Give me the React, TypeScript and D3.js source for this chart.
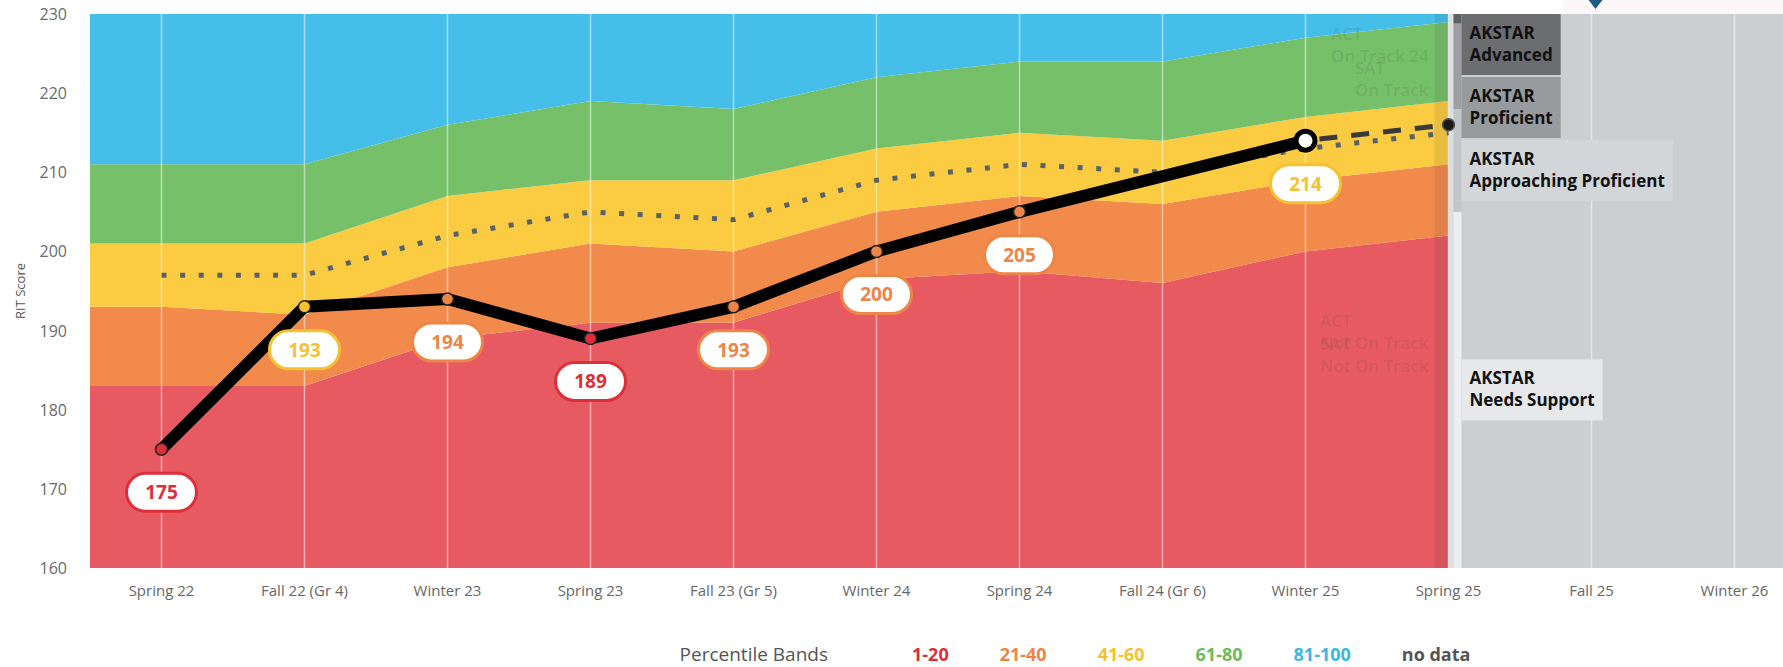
import React from "react";
import * as d3 from "d3";

const width = 1783;
const height = 667;
const plot = { top: 14, bottom: 568, left: 90, right: 1806 };
const font = "'Open Sans', sans-serif";

// categories on the x axis
const periods = [
  "Spring 22", "Fall 22 (Gr 4)", "Winter 23", "Spring 23", "Fall 23 (Gr 5)", "Winter 24",
  "Spring 24", "Fall 24 (Gr 6)", "Winter 25", "Spring 25", "Fall 25", "Winter 26"
];
const bandPeriods = periods.slice(0, 10);

// percentile band boundaries (RIT) per period
const p20 = [183, 183, 189, 191, 191, 196.5, 197.5, 196, 200, 202];
const p40 = [193, 192, 198, 201, 200, 205, 207, 206, 209, 211];
const p60 = [201, 201, 207, 209, 209, 213, 215, 214, 217, 219];
const p80 = [211, 211, 216, 219, 218, 222, 224, 224, 227, 229];
const median = [197, 197, 202, 205, 204, 209, 211, 210, 213, 215];

// student scores
const scores: (number | null)[] = [175, 193, 194, 189, 193, 200, 205, null, 214];
const projected = 216;

const bandNames = ["1-20", "21-40", "41-60", "61-80", "81-100"];
const bandColors = ["#e85a61", "#f28a4b", "#fbcb41", "#77c06a", "#45bfe9"];
const textColors = ["#dc2f39", "#ee8546", "#f5c131", "#6cb95e", "#3cb7e2"];
const yTicks = [160, 170, 180, 190, 200, 210, 220, 230];

const akstarLevels = ["Needs Support", "Approaching Proficient", "Proficient", "Advanced"];
const akstarCuts = [160, 205, 218, 228.8, 230];
const akstarBoxColors = ["#e6e8e9", "#d3d6d8", "#989b9e", "#6b6d6f"];
const akstarBarColors = ["#eceeef", "#c3c6c8", "#9d9fa2", "#5e6062"];

const trackNotes = [
  { lines: ["ACT", "On Track 24"], score: 226.7 },
  { lines: ["SAT", "On Track"], score: 222.4 },
  { lines: ["ACT", "Not On Track"], score: 190.4 },
  { lines: ["SAT", "Not On Track"], score: 187.6 }
];

let ctx: CanvasRenderingContext2D | null = null;
function measure(text: string, f: string) {
  if (!ctx) ctx = document.createElement("canvas").getContext("2d");
  ctx!.font = f;
  return ctx!.measureText(text).width;
}

export default function App() {
  const x = d3.scalePoint<string>().domain(periods).range([plot.left, plot.right]).padding(0.5);
  const y = d3.scaleLinear().domain([160, 230]).range([plot.bottom, plot.top]);
  const px = (p: string) => x(p) as number;

  const lows = [bandPeriods.map(() => 160), p20, p40, p60, p80];
  const highs = [p20, p40, p60, p80, bandPeriods.map(() => 230)];
  const pts = [{ x: plot.left, i: 0 }, ...bandPeriods.map((p, i) => ({ x: px(p), i }))];
  const endX = px("Spring 25");

  const bandOf = (v: number, i: number) => {
    let b = 0;
    [p20, p40, p60, p80].forEach(arr => { if (v >= arr[i]) b++; });
    return b;
  };

  const scorePts = scores
    .map((v, i) => ({ v, i }))
    .filter(d => d.v !== null) as { v: number; i: number }[];
  const line = d3.line<{ v: number; i: number }>()
    .x(d => px(periods[d.i]))
    .y(d => y(d.v));
  const medLine = d3.line<number>()
    .x((_, i) => px(periods[i]))
    .y(d => y(d));
  const last = scorePts[scorePts.length - 1];

  // AKSTAR label boxes, stacked from top
  const boxH = 61;
  const boxFont = `bold 17px ${font}`;
  const boxes: any[] = [];
  let prevBottom = plot.top - 2;
  for (let k = akstarLevels.length - 1; k >= 0; k--) {
    const mid = (akstarCuts[k] + akstarCuts[k + 1]) / 2;
    const top = Math.max(y(mid) - boxH / 2, prevBottom + 2, plot.top);
    const w = Math.max(measure("AKSTAR", boxFont), measure(akstarLevels[k], boxFont)) + 16;
    boxes.push({ k, top, w });
    prevBottom = top + boxH;
  }

  // legend layout
  const legendItems = [
    ...bandNames.map((t, i) => ({ text: t, color: textColors[i] })),
    { text: "no data", color: "#555" }
  ];
  let lx = 912;
  const legend = legendItems.map(it => {
    const pos = lx;
    lx += measure(it.text, `700 18px ${font}`) + 51;
    return { ...it, x: pos };
  });
  const titleW = measure("Percentile Bands", `400 19px ${font}`);

  const noteFont = `600 17px ${font}`;

  return (
    <svg width={width} height={height} style={{ position: "absolute", left: 0, top: 0, fontFamily: font }}>
      <rect x={1563} y={0} width={220} height={14} fill="#fdf7fa" />
      {/* percentile bands */}
      {bandColors.map((c, b) => {
        const area = d3.area<{ x: number; i: number }>()
          .x(d => d.x)
          .y0(d => y(lows[b][d.i]))
          .y1(d => y(highs[b][d.i]));
        return <path key={b} d={area(pts) || ""} fill={c} />;
      })}
      {/* no data area */}
      <rect x={endX} y={plot.top} width={width - endX} height={plot.bottom - plot.top} fill="#cbcfd1" />
      <rect x={endX - 14} y={plot.top} width={14} height={plot.bottom - plot.top} fill="rgba(60,60,60,0.1)" />
      {/* grid */}
      {periods.map(p => (
        <line key={p} x1={px(p)} x2={px(p)} y1={plot.top} y2={plot.bottom}
          stroke="rgba(255,255,255,0.5)" strokeWidth={1.5} />
      ))}
      <rect x={endX} y={plot.top} width={5} height={plot.bottom - plot.top} fill="#dde0e1" />
      {/* AKSTAR bar and labels */}
      {akstarLevels.map((l, k) => (
        <rect key={l} x={endX + 5} width={8} y={y(akstarCuts[k + 1])}
          height={y(akstarCuts[k]) - y(akstarCuts[k + 1])} fill={akstarBarColors[k]} />
      ))}
      {boxes.map(b => (
        <g key={b.k}>
          <rect x={endX + 13} y={b.top} width={b.w} height={boxH} fill={akstarBoxColors[b.k]} />
          <text x={endX + 21} y={b.top + 25} fontSize={17} fontWeight={700} fill="#111">AKSTAR</text>
          <text x={endX + 21} y={b.top + 47} fontSize={17} fontWeight={700} fill="#111">{akstarLevels[b.k]}</text>
        </g>
      ))}
      {/* ACT / SAT notes */}
      {trackNotes.map((n, j) => {
        const w = Math.max(...n.lines.map(t => measure(t, noteFont)));
        return n.lines.map((t, li) => (
          <text key={j + "-" + li} x={endX - 20 - w} y={y(n.score) + li * 22}
            fontSize={17} fontWeight={600} fill="rgba(60,60,60,0.13)">{t}</text>
        ));
      })}
      {/* top marker */}
      <path d={`M${px("Fall 25") - 3},0 L${px("Fall 25") + 11},0 L${px("Fall 25") + 4},9 Z`} fill="#1c5d84" />
      {/* median dotted */}
      <path d={medLine(median) || ""} fill="none" stroke="#5b6267" strokeWidth={5} strokeDasharray="5 13.6" />
      {/* projection */}
      <line x1={px(periods[last.i])} y1={y(last.v)} x2={endX} y2={y(projected)}
        stroke="#3a3a3a" strokeWidth={5} strokeDasharray="18 14" strokeDashoffset={-14} />
      <circle cx={endX} cy={y(projected)} r={6} fill="#1a1a1a" stroke="#555" strokeWidth={1.5} />
      {/* student line */}
      <path d={line(scorePts) || ""} fill="none" stroke="#000" strokeWidth={12}
        strokeLinejoin="round" strokeLinecap="round" />
      {scorePts.map((d, j) => {
        const cx = px(periods[d.i]);
        const cy = y(d.v);
        const b = bandOf(d.v, d.i);
        const isLast = j === scorePts.length - 1;
        return (
          <g key={j}>
            {isLast
              ? <circle cx={cx} cy={cy} r={9.5} fill="#fff" stroke="#000" strokeWidth={5} />
              : <circle cx={cx} cy={cy} r={6} fill={textColors[b]} stroke="#222" strokeWidth={1.5} />}
            <rect x={cx - 35} y={cy + 24} width={70} height={38} rx={19}
              fill="#fff" stroke={textColors[b]} strokeWidth={3} />
            <text x={cx} y={cy + 43} textAnchor="middle" dominantBaseline="central"
              fontSize={19} fontWeight={700} fill={textColors[b]}>{d.v}</text>
          </g>
        );
      })}
      {/* axes */}
      {yTicks.map(t => (
        <text key={t} x={67} y={y(t)} textAnchor="end" dominantBaseline="central"
          fontSize={16} fill="#6a6a6a">{t}</text>
      ))}
      <text transform={`translate(20,${(plot.top + plot.bottom) / 2}) rotate(-90)`} textAnchor="middle"
        dominantBaseline="central" fontSize={13} fill="#555">RIT Score</text>
      {periods.map(p => (
        <text key={p} x={px(p)} y={596} textAnchor="middle" fontSize={15} fill="#666">{p}</text>
      ))}
      {/* legend */}
      <text x={912 - 84 - titleW} y={661} fontSize={19} fill="#555">Percentile Bands</text>
      {legend.map(it => (
        <text key={it.text} x={it.x} y={661} fontSize={18} fontWeight={700} fill={it.color}>{it.text}</text>
      ))}
    </svg>
  );
}
